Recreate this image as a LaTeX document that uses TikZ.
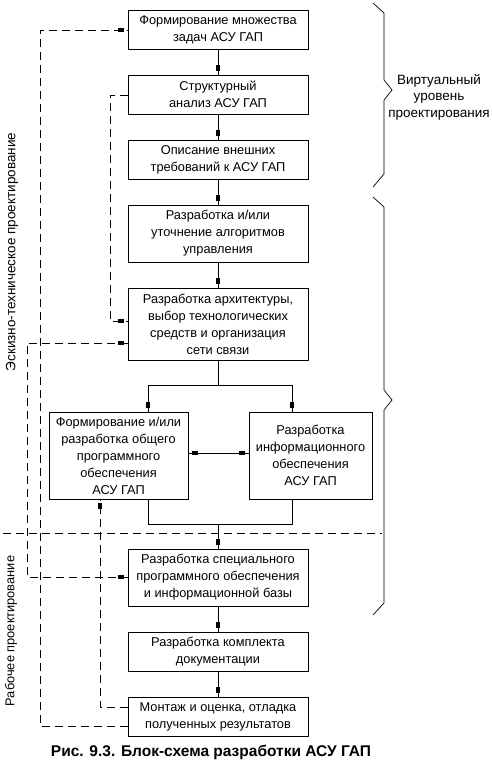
\documentclass[tikz,border=0pt]{standalone}
\usepackage{fontspec}
\setmainfont{Liberation Sans}
\usetikzlibrary{decorations.markings,calc}
\tikzset{
  box/.style={draw, line width=0.8pt, align=center, inner sep=0pt, font=\fontsize{12.8}{17}\selectfont},
  lbl/.style={align=center, inner sep=0pt, font=\fontsize{13.5}{16.5}\selectfont},
  conn/.style={line width=0.8pt},
  dsh/.style={line width=0.8pt, dash pattern=on 8pt off 5pt},
  brace/.style={line width=0.7pt},
  sqend/.style={postaction={decorate,decoration={markings,mark=at position -7pt with {\fill (-3pt,-2pt) rectangle (3pt,2pt);}}}},
  sqstart/.style={postaction={decorate,decoration={markings,mark=at position 7pt with {\fill (-3pt,-2pt) rectangle (3pt,2pt);}}}},
}
\begin{document}
\begin{tikzpicture}[x=1pt,y=-1pt]
\path[use as bounding box, fill=white] (0,0) rectangle (492,773);
% boxes
\node[box, minimum width=180pt, minimum height=39pt] (b1) at (218,29.5) {Формирование множества\\задач АСУ ГАП};
\node[box, minimum width=180pt, minimum height=39pt] (b2) at (218,94.5) {Структурный\\анализ АСУ ГАП};
\node[box, minimum width=180pt, minimum height=39pt] (b3) at (218,159.5) {Описание внешних\\требований к АСУ ГАП};
\node[box, minimum width=180pt, minimum height=57pt] (b4) at (218,233.5) {Разработка и/или\\уточнение алгоритмов\\управления};
\node[box, minimum width=180pt, minimum height=72pt] (b5) at (218,324) {Разработка архитектуры,\\выбор технологических\\средств и организация\\сети связи};
\node[box, minimum width=139pt, minimum height=87pt] (b6) at (118.5,455.5) {Формирование и/или\\разработка общего\\программного\\обеспечения\\АСУ ГАП};
\node[box, minimum width=123pt, minimum height=87pt] (b7) at (310.5,455.5) {Разработка\\информационного\\обеспечения\\АСУ ГАП};
\node[box, minimum width=180pt, minimum height=57pt] (b8) at (218,577.5) {Разработка специального\\программного обеспечения\\и информационной базы};
\node[box, minimum width=180pt, minimum height=39pt] (b9) at (218,651.5) {Разработка комплекта\\документации};
\node[box, minimum width=180pt, minimum height=39pt] (b10) at (218,716.5) {Монтаж и оценка, отладка\\полученных результатов};
% main chain
\draw[conn, sqend] (b1) -- (b2);
\draw[conn, sqend] (b2) -- (b3);
\draw[conn, sqend] (b3) -- (b4);
\draw[conn, sqend] (b4) -- (b5);
\draw[conn, sqend] (b8) -- (b9);
\draw[conn, sqend] (b9) -- (b10);
% split
\coordinate (l6) at (148,385);
\coordinate (r7) at (292,385);
\draw[conn] (b5.south) -- (b5.south |- l6);
\draw[conn] (l6) -- (r7);
\draw[conn, sqend] (l6) -- (l6 |- b6.north);
\draw[conn, sqend] (r7) -- (r7 |- b7.north);
% join
\coordinate (jl) at (148,524);
\coordinate (jr) at (292,524);
\draw[conn] (jl |- b6.south) -- (jl) -- (jr) -- (jr |- b7.south);
\draw[conn, sqend] (b8.north |- jl) -- (b8.north);
% between b6 and b7
\coordinate (m67) at (0,453);
\draw[conn, sqstart, sqend] (b6.east |- m67) -- (b7.west |- m67);
% dashed separator
\coordinate (sepL) at (3,533);
\coordinate (sepR) at (382,533);
\draw[dsh] (sepL) -- (sepR);
% dashed feedback lines
\coordinate (o1) at (40,726);
\coordinate (o2) at (40,30);
\draw[dsh, sqend] (b10.west |- o1) -- (o1) -- (o2) -- (b1.west |- o2);
\coordinate (p0) at (0,95);
\coordinate (p1) at (110,321);
\draw[dsh, sqend] (b2.west |- p0) -| (p1) -- (b5.west |- p1);
\coordinate (q1) at (27,343);
\coordinate (q2) at (27,577);
\draw[dsh, sqstart, sqend] (b5.west |- q1) -- (q1) -- (q2) -- (b8.west |- q2);
\coordinate (r1) at (100,707);
\draw[dsh, sqend] (b10.west |- r1) -- (r1) -- (r1 |- b6.south);
% braces
\draw[brace] (373,3) -- (384,13) -- (384,80) -- (392,90) -- (384,100) -- (384,174) -- (373,187);
\draw[brace] (373,197) -- (384,207) -- (384,390) -- (392,400) -- (384,410) -- (384,603) -- (373,615);
% labels
\node[lbl] (virt) at (439,97) {Виртуальный\\уровень\\проектирования};
\node[lbl, rotate=90] (esk) at (12,252) {Эскизно-техническое проектирование};
\node[lbl, rotate=90, font=\fontsize{12.8}{16}\selectfont] (rab) at (11,631) {Рабочее проектирование};
\node[inner sep=0pt, font=\fontsize{15.5}{18}\selectfont\bfseries] (cap) at (211,752) {Рис. 9.3. Блок-схема разработки АСУ ГАП};
\end{tikzpicture}
\end{document}
